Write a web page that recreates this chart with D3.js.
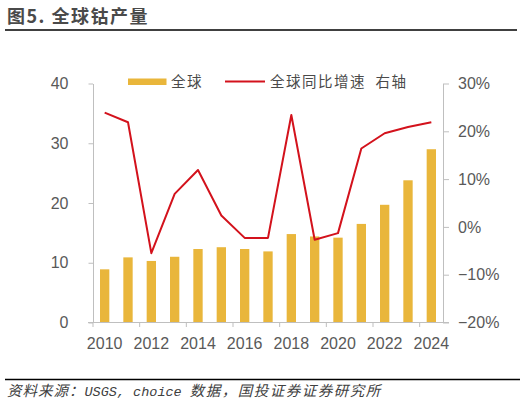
<!DOCTYPE html>
<html>
<head>
<meta charset="utf-8">
<title>全球钴产量</title>
<script src="https://d3js.org/d3.v7.min.js"></script>
<style>
  body { margin: 0; background: #fff; }
  svg text { font-family: "Liberation Sans", Arial, "Noto Sans CJK SC", sans-serif; }
  .cjk { font-family: "Noto Sans CJK SC", sans-serif; }
</style>
</head>
<body>
<div id="chart"></div>
<script>
const width = 527;
const height = 404;

// data
const years = [2010, 2011, 2012, 2013, 2014, 2015, 2016, 2017, 2018, 2019, 2020, 2021, 2022, 2023, 2024];
const output = [8.9, 10.9, 10.3, 11.0, 12.3, 12.6, 12.3, 11.9, 14.8, 14.4, 14.2, 16.5, 19.7, 23.8, 29.0];
const growth = [23.9, 21.9, -5.5, 6.9, 11.9, 2.4, -2.3, -2.3, 23.4, -2.7, -1.3, 16.4, 19.6, 20.9, 21.9];
const leftTicks = [0, 10, 20, 30, 40];
const rightTicks = [-20, -10, 0, 10, 20, 30];
const labelYears = [2010, 2012, 2014, 2016, 2018, 2020, 2022, 2024];

const barColor = "#E9B63B";
const lineColor = "#D3121C";
const axisColor = "#bfbfbf";
const textColor = "#595959";

const plot = { left: 93, right: 443, top: 83.5, bottom: 322.5 };

const svg = d3.select("#chart").append("svg")
  .attr("width", width).attr("height", height);

// title
svg.append("text")
  .attr("class", "cjk")
  .attr("x", 7).attr("y", 23)
  .attr("font-size", 18).attr("font-weight", "bold")
  .attr("letter-spacing", 1.5)
  .attr("fill", "#4a4a4a")
  .text("图5. 全球钴产量");

svg.append("line")
  .attr("x1", 5).attr("x2", 517).attr("y1", 30).attr("y2", 30)
  .attr("stroke", "#000").attr("stroke-width", 1.5);

const x = d3.scaleBand()
  .domain(years)
  .range([plot.left, plot.right])
  .paddingInner(0.6)
  .paddingOuter(0.3);

const yL = d3.scaleLinear().domain([0, 40]).range([plot.bottom, plot.top]);
const yR = d3.scaleLinear().domain([-20, 30]).range([plot.bottom, plot.top]);

// bars
svg.append("g")
  .selectAll("rect")
  .data(years)
  .enter()
  .append("rect")
  .attr("x", d => x(d))
  .attr("width", x.bandwidth())
  .attr("y", (d, i) => yL(output[i]))
  .attr("height", (d, i) => yL(0) - yL(output[i]))
  .attr("fill", barColor);

// left axis
const gL = svg.append("g")
  .attr("transform", `translate(${plot.left},0)`)
  .call(d3.axisLeft(yL).tickValues(leftTicks).tickSize(4.5).tickPadding(20).tickSizeOuter(0));
gL.select(".domain").attr("stroke", axisColor);
gL.selectAll(".tick line").attr("stroke", axisColor);
gL.selectAll(".tick text").attr("fill", textColor).attr("font-size", 16)
  .attr("font-family", "'Liberation Sans', Arial, sans-serif");

// right axis
const gR = svg.append("g")
  .attr("transform", `translate(${plot.right},0)`)
  .call(d3.axisRight(yR).tickValues(rightTicks).tickSize(6).tickPadding(9).tickSizeOuter(0)
    .tickFormat(d => d3.format("d")(d) + "%"));
gR.select(".domain").attr("stroke", axisColor);
gR.selectAll(".tick line").attr("stroke", axisColor);
gR.selectAll(".tick text").attr("fill", textColor).attr("font-size", 16)
  .attr("font-family", "'Liberation Sans', Arial, sans-serif");

// bottom axis
const step = x.step();
const gB = svg.append("g");
gB.append("line")
  .attr("x1", plot.left - 5).attr("x2", plot.right + 6)
  .attr("y1", plot.bottom).attr("y2", plot.bottom)
  .attr("stroke", axisColor);
gB.selectAll("line.tk")
  .data(labelYears)
  .enter()
  .append("line")
  .attr("class", "tk")
  .attr("x1", d => x(d) - step * x.paddingInner() / 2)
  .attr("x2", d => x(d) - step * x.paddingInner() / 2)
  .attr("y1", plot.bottom).attr("y2", plot.bottom + 4.5)
  .attr("stroke", axisColor);
gB.selectAll("text")
  .data(labelYears)
  .enter()
  .append("text")
  .attr("x", d => x(d) + x.bandwidth() / 2)
  .attr("y", 348.5)
  .attr("text-anchor", "middle")
  .attr("font-size", 16)
  .attr("fill", textColor)
  .text(d => d);

// growth line
const line = d3.line()
  .x((d, i) => x(years[i]) + x.bandwidth() / 2)
  .y(d => yR(d));

svg.append("path")
  .datum(growth)
  .attr("d", line)
  .attr("fill", "none")
  .attr("stroke", lineColor)
  .attr("stroke-width", 2)
  .attr("stroke-linejoin", "round");

// legend
const lg = svg.append("g");
lg.append("rect")
  .attr("x", 128).attr("y", 78.5).attr("width", 38.5).attr("height", 6.5)
  .attr("fill", barColor);
lg.append("text")
  .attr("class", "cjk")
  .attr("x", 171).attr("y", 87)
  .attr("font-size", 14.5).attr("fill", "#4a4a4a")
  .attr("letter-spacing", 1.5)
  .text("全球");
lg.append("line")
  .attr("x1", 225).attr("x2", 265).attr("y1", 81.5).attr("y2", 81.5)
  .attr("stroke", lineColor).attr("stroke-width", 2);
lg.append("text")
  .attr("class", "cjk")
  .attr("x", 270).attr("y", 87)
  .attr("font-size", 14.5).attr("fill", "#4a4a4a")
  .attr("letter-spacing", 1.5)
  .attr("xml:space", "preserve")
  .text("全球同比增速  右轴");

// source
svg.append("line")
  .attr("x1", 5).attr("x2", 520).attr("y1", 379.5).attr("y2", 379.5)
  .attr("stroke", "#000").attr("stroke-width", 1.5);

const src = svg.append("text")
  .attr("x", 7).attr("y", 396)
  .attr("font-size", 14.5)
  .attr("font-style", "italic")
  .attr("fill", "#404040");
src.append("tspan").attr("class", "cjk").attr("letter-spacing", 1).text("资料来源：");
src.append("tspan").attr("font-family", "'Liberation Mono', monospace").attr("font-size", 13.5).text("USGS, choice ");
src.append("tspan").attr("class", "cjk").attr("letter-spacing", 1.5).text("数据，国投证券证券研究所");
</script>
</body>
</html>
